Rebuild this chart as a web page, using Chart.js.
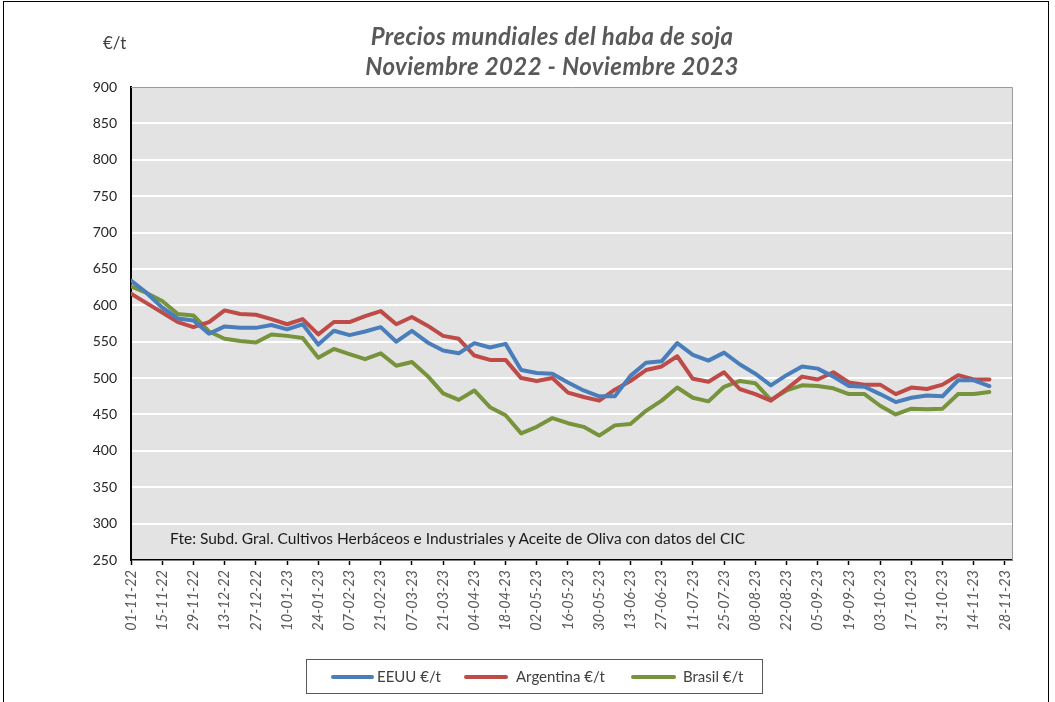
<!DOCTYPE html>
<html>
<head>
<meta charset="utf-8">
<script src="https://cdn.jsdelivr.net/npm/chart.js@4.4.1/dist/chart.umd.min.js"></script>
<style>
  html, body { margin: 0; padding: 0; background: #fff; }
  #wrap { position: relative; width: 1055px; height: 702px; overflow: hidden; font-family: Lato, "Open Sans", sans-serif; }
  #frame { position: absolute; left: 3px; top: 1px; width: 1046px; height: 720px; border: 1px solid #000; box-sizing: border-box; }
  canvas { position: absolute; left: 0; top: 0; }
  .title { position: absolute; left: 250px; width: 604px; text-align: center; font-weight: bold; font-style: italic; font-size: 24px; letter-spacing: 0.4px; color: #595959; white-space: nowrap; }
  #unit { position: absolute; left: 103px; top: 32px; font-size: 17px; color: #404040; }
  #note { position: absolute; left: 170px; top: 529px; font-size: 15.5px; color: #1a1a1a; white-space: nowrap; }
  #legend { position: absolute; left: 306px; top: 659px; width: 457px; height: 35px; border: 1px solid #595959; box-sizing: border-box; }
  .lg-line { position: absolute; height: 4px; border-radius: 2px; top: 15px; }
  .lg-text { position: absolute; top: 7px; font-size: 15px; color: #404040; white-space: nowrap; }
</style>
</head>
<body>
<div id="wrap">
  <div id="frame"></div>
  <canvas id="c" width="1055" height="702"></canvas>
  <div class="title" style="top:21px">Precios mundiales del haba de soja</div>
  <div class="title" style="top:51px">Noviembre 2022 - Noviembre 2023</div>
  <div id="unit">€/t</div>
  <div id="note">Fte: Subd. Gral. Cultivos Herbáceos e Industriales y Aceite de Oliva con datos del CIC</div>
  <div id="legend"></div>
</div>
<script>
// Tick labels (every two weeks); data points are weekly starting at 01-11-22
const tickLabels = ["01-11-22","15-11-22","29-11-22","13-12-22","27-12-22","10-01-23","24-01-23","07-02-23","21-02-23","07-03-23","21-03-23","04-04-23","18-04-23","02-05-23","16-05-23","30-05-23","13-06-23","27-06-23","11-07-23","25-07-23","08-08-23","22-08-23","05-09-23","19-09-23","03-10-23","17-10-23","31-10-23","14-11-23","28-11-23"];

const eeuu = [634,617,597,582,579,561,571,569,569,573,
              567,574,546,565,559,564,570,550,565,549,
              538,534,548,542,547,511,507,506,494,483,
              475,475,503,521,523,548,532,524,535,519,
              506,490,504,516,513,502,489,488,478,467,
              473,476,475,497,497,489];

const argentina = [616,603,590,577,570,577,593,588,587,581,
                   574,581,560,577,577,585,592,574,584,572,
                   558,554,531,525,525,500,496,500,480,474,
                   469,484,496,511,516,530,499,495,508,485,
                   478,469,485,502,498,508,494,491,491,478,
                   487,485,491,504,498,498];

const brasil = [626,617,606,588,586,564,554,551,549,560,
                558,555,528,540,533,526,534,517,522,503,
                479,470,483,460,449,424,433,445,438,433,
                421,435,437,455,469,487,473,468,488,496,
                493,470,483,490,489,486,478,478,462,450,
                458,457,458,478,478,481];

const seriesNames = ["EEUU €/t", "Argentina €/t", "Brasil €/t"];
const seriesColors = ["#4A7EBB", "#BE4B48", "#77933C"];
const seriesData = [eeuu, argentina, brasil];

const plotBg = {
  id: 'plotBg',
  beforeDraw(chart) {
    const {ctx, chartArea: a} = chart;
    ctx.save();
    ctx.fillStyle = '#e3e3e3';
    ctx.fillRect(a.left, a.top, a.right - a.left, a.bottom - a.top);
    ctx.restore();
  },
  afterDraw(chart) {
    const {ctx, chartArea: a} = chart;
    ctx.save();
    ctx.strokeStyle = '#9a9a9a';
    ctx.lineWidth = 1;
    ctx.beginPath();
    ctx.moveTo(a.left, a.top + 0.5);
    ctx.lineTo(a.right + 0.5, a.top + 0.5);
    ctx.lineTo(a.right + 0.5, a.bottom);
    ctx.stroke();
    ctx.restore();
  }
};

Chart.defaults.font.family = 'Lato, "Open Sans", sans-serif';

new Chart(document.getElementById('c'), {
  type: 'line',
  data: {
    datasets: seriesData.map((arr, k) => ({
      label: seriesNames[k],
      data: arr.map((v, i) => ({x: i, y: v})),
      borderColor: seriesColors[k],
      backgroundColor: seriesColors[k],
      borderWidth: 4,
      pointRadius: 0,
      tension: 0,
      borderJoinStyle: 'round',
      borderCapStyle: 'round'
    }))
  },
  options: {
    responsive: false,
    animation: false,
    events: [],
    layout: { padding: { left: 0, right: 43, top: 87, bottom: 62 } },
    plugins: { legend: { display: false }, title: { display: false }, tooltip: { enabled: false } },
    scales: {
      x: {
        type: 'linear',
        min: 0,
        max: 56.45,
        afterBuildTicks: s => { s.ticks = tickLabels.map((_, k) => ({ value: 2 * k })); },
        afterFit: s => { s.height = 80; },
        ticks: {
          autoSkip: false,
          maxRotation: 90,
          minRotation: 90,
          padding: 5,
          color: '#595959',
          font: { size: 14.5, style: 'italic' },
          callback: v => tickLabels[Math.round(v / 2)]
        },
        grid: { drawOnChartArea: false, drawTicks: true, tickLength: 5, tickColor: '#000', tickWidth: 1.5 },
        border: { display: true, color: '#000', width: 1.5 }
      },
      y: {
        min: 250,
        max: 900,
        afterFit: s => { s.width = 131; },
        ticks: { stepSize: 50, padding: 14, color: '#262626', font: { size: 14 } },
        grid: { color: '#ffffff', lineWidth: 2, drawTicks: false },
        border: { display: true, color: '#000', width: 2 }
      }
    }
  },
  plugins: [plotBg]
});

// HTML legend built from the series definitions
const legend = document.getElementById('legend');
const lgPos = [{line: 24, w: 43, text: 70}, {line: 157, w: 44, text: 209}, {line: 324, w: 45, text: 376}];
seriesNames.forEach((name, k) => {
  const l = document.createElement('div');
  l.className = 'lg-line';
  l.style.left = lgPos[k].line + 'px';
  l.style.width = lgPos[k].w + 'px';
  l.style.background = seriesColors[k];
  legend.appendChild(l);
  const t = document.createElement('div');
  t.className = 'lg-text';
  t.style.left = lgPos[k].text + 'px';
  t.textContent = name;
  legend.appendChild(t);
});
</script>
</body>
</html>
